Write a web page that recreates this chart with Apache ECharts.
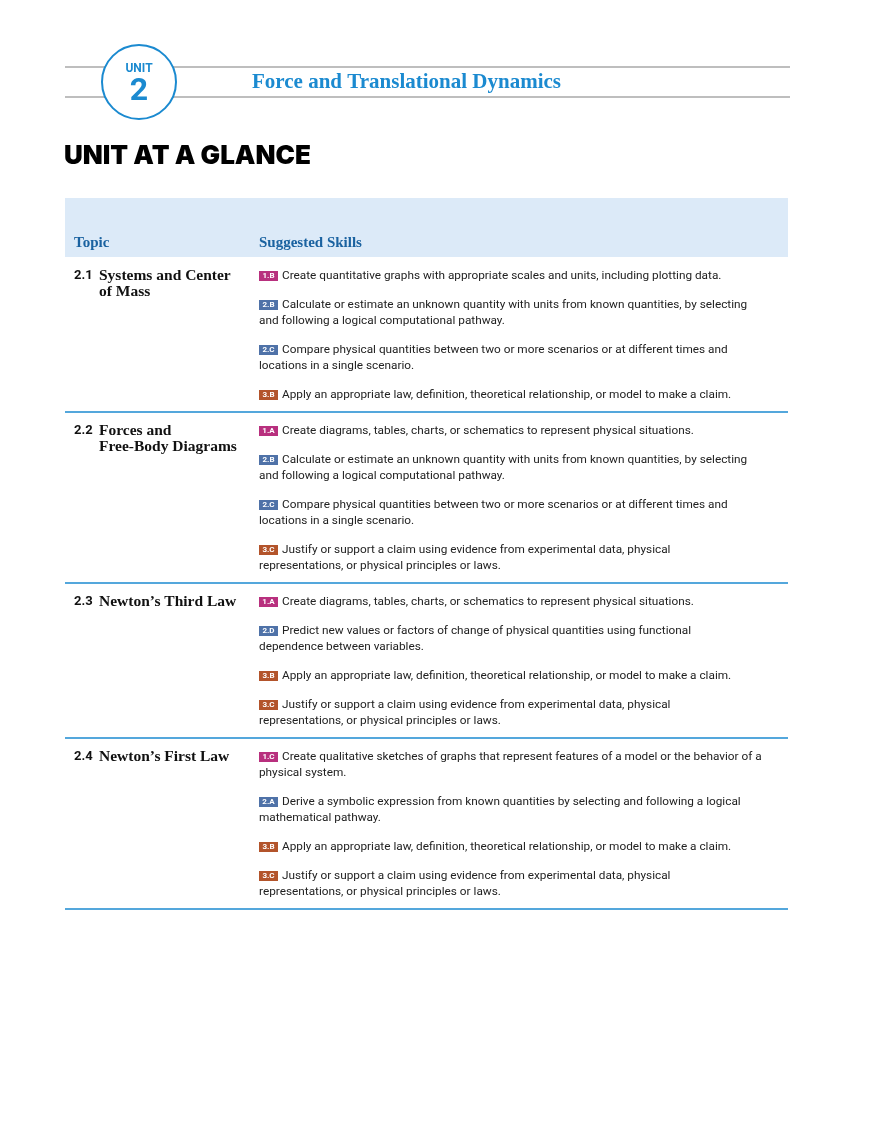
<!DOCTYPE html>
<html><head><meta charset="utf-8">
<script src="https://cdn.jsdelivr.net/npm/echarts@6/dist/echarts.min.js"></script>
<style>html,body{margin:0;padding:0;background:#fff}#page{width:880px;height:1139px}</style>
</head><body><div id="page"></div>
<script>
var unitNumber = '2';
var unitTitle = 'Force and Translational Dynamics';
var topicNums = ['2.1', '2.2', '2.3', '2.4'];
var topicNames = [
    ['Systems and Center', 'of Mass'],
    ['Forces and', 'Free-Body Diagrams'],
    ['Newton\u2019s Third Law'],
    ['Newton\u2019s First Law']
];
var skillCodes = [
    ['1.B', '2.B', '2.C', '3.B'],
    ['1.A', '2.B', '2.C', '3.C'],
    ['1.A', '2.D', '3.B', '3.C'],
    ['1.C', '2.A', '3.B', '3.C']
];
var skillTexts = {
    '1.A': ['Create diagrams, tables, charts, or schematics to represent physical situations.'],
    '1.B': ['Create quantitative graphs with appropriate scales and units, including plotting data.'],
    '1.C': ['Create qualitative sketches of graphs that represent features of a model or the behavior of a', 'physical system.'],
    '2.A': ['Derive a symbolic expression from known quantities by selecting and following a logical', 'mathematical pathway.'],
    '2.B': ['Calculate or estimate an unknown quantity with units from known quantities, by selecting', 'and following a logical computational pathway.'],
    '2.C': ['Compare physical quantities between two or more scenarios or at different times and', 'locations in a single scenario.'],
    '2.D': ['Predict new values or factors of change of physical quantities using functional', 'dependence between variables.'],
    '3.B': ['Apply an appropriate law, definition, theoretical relationship, or model to make a claim.'],
    '3.C': ['Justify or support a claim using evidence from experimental data, physical', 'representations, or physical principles or laws.']
};
var badgeColors = {'1': '#b8307e', '2': '#4f72a8', '3': '#b3542b'};

var chart = echarts.init(document.getElementById('page'));
var serif = '"Liberation Serif", "DejaVu Serif", serif';
var sans = 'Roboto, "Liberation Sans", sans-serif';
var g = [];

function txt(x, y, text, font, fill, align) {
    g.push({type: 'text', style: {x: x, y: y, text: text, font: font, fill: fill,
        textAlign: align || 'left', align: align || 'left', verticalAlign: 'middle', textBaseline: 'middle'}});
}

// header
g.push({type: 'line', shape: {x1: 65, y1: 67, x2: 790, y2: 67}, style: {stroke: '#a8a8a8', lineWidth: 1.5}});
g.push({type: 'line', shape: {x1: 65, y1: 97, x2: 790, y2: 97}, style: {stroke: '#a8a8a8', lineWidth: 1.5}});
g.push({type: 'circle', shape: {cx: 139, cy: 82, r: 37}, style: {fill: '#fff', stroke: '#1b8ad0', lineWidth: 2}});
txt(139, 69, 'UNIT', 'bold 12px ' + sans, '#1b8ad0', 'center');
txt(139, 92, unitNumber, 'bold 32px ' + sans, '#1b8ad0', 'center');
txt(252, 83, unitTitle, 'bold 21px ' + serif, '#1b8ad0');
txt(64, 156, 'UNIT AT A GLANCE', '900 26px Inter, "Liberation Sans", sans-serif', '#000');

// table head
g.push({type: 'rect', shape: {x: 65, y: 198, width: 723, height: 59}, style: {fill: '#dceaf8'}});
txt(74, 243, 'Topic', 'bold 15px ' + serif, '#1a62a0');
txt(259, 243, 'Suggested Skills', 'bold 15px ' + serif, '#1a62a0');

var y = 276;
topicNums.forEach(function (num, i) {
    txt(74, y, num, 'bold 13px ' + sans, '#111');
    topicNames[i].forEach(function (t, k) {
        txt(99, y + k * 16, t, 'bold 15.5px ' + serif, '#111');
    });
    skillCodes[i].forEach(function (code, j) {
        g.push({type: 'rect', shape: {x: 259, y: y - 5, width: 19, height: 10}, style: {fill: badgeColors[code[0]]}});
        txt(268.5, y, code, 'bold 8px ' + sans, '#fff', 'center');
        var lines = skillTexts[code];
        lines.forEach(function (ln, k) {
            txt(k === 0 ? 282 : 259, y + k * 16, ln, '11.8px ' + sans, '#222');
        });
        var last = y + (lines.length - 1) * 16;
        y = (j < skillCodes[i].length - 1) ? last + 29 : last;
    });
    var sep = y + 17;
    g.push({type: 'line', shape: {x1: 65, y1: sep, x2: 788, y2: sep}, style: {stroke: '#1b8ad0', lineWidth: 1.5}});
    y = sep + 19;
});

chart.setOption({graphic: {elements: g}});
</script>
</body></html>
